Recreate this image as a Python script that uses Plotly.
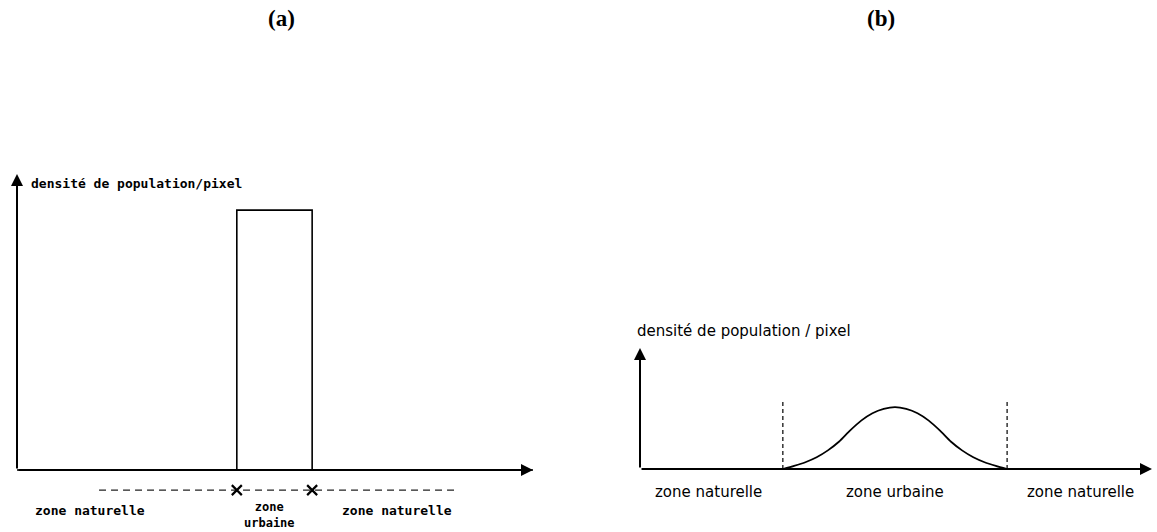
import plotly.graph_objects as go

W, H = 1157, 532

# ---------------- data ----------------
# (a) step profile: natural zone / urban zone / natural zone
a_x = [0, 42.6, 42.6, 57.2, 57.2, 100]
a_density = [0, 0, 87.8, 87.8, 0, 0]
a_zone_bounds = [15.9, 42.6, 57.2, 85.3]      # dashed line under the axis, x marks at the urban limits
a_zone_level = -6.8

# (b) smooth profile
b_curve_x = [27.9, 30.1, 32.3, 34.5, 36.7, 38.85, 41.0, 43.2, 45.4, 47.6, 49.8,
             52.0, 54.2, 56.4, 58.6, 60.75, 62.9, 65.1, 67.3, 69.5, 71.7]
b_curve_y = [0, 2.6, 5.6, 9.7, 15.4, 22.5, 31.7, 40.0, 46.1, 49.7, 51.2,
             49.7, 46.1, 40.0, 31.7, 22.5, 15.4, 9.7, 5.6, 2.6, 0]
b_limits = [27.9, 71.7]
b_limit_top = 55.4

a_labels = ["zone naturelle", "zone<br>urbaine", "zone naturelle"]
b_labels = ["zone naturelle", "zone urbaine", "zone naturelle"]
ylabel_a = "densité de population/pixel"
ylabel_b = "densité de population / pixel"


def px(x):
    return x / W


def py(y):
    return 1 - y / H


def note(x, y, text, font, xanchor="center"):
    return dict(x=px(x), y=py(y), xref="paper", yref="paper", text=text, showarrow=False,
                xanchor=xanchor, yanchor="middle", font=font, borderpad=0)


MONO = dict(family="DejaVu Sans Mono", size=13, color="black")
MONO_SMALL = dict(MONO, size=12)
SANS = dict(family="DejaVu Sans", size=15, color="black")
SERIF = dict(family="Liberation Serif", size=23, color="black")

fig = go.Figure()

# ---------------- panel (a) ----------------
fig.add_trace(go.Scatter(x=a_x, y=a_density, mode="lines", xaxis="x", yaxis="y",
                         line=dict(color="black", width=1.6)))
fig.add_trace(go.Scatter(x=[a_zone_bounds[0], a_zone_bounds[-1]], y=[a_zone_level] * 2, mode="lines",
                         xaxis="x", yaxis="y", line=dict(color="#222", width=1.3, dash="7px,5px")))
fig.add_trace(go.Scatter(x=a_zone_bounds[1:3], y=[a_zone_level] * 2, mode="markers", xaxis="x", yaxis="y",
                         marker=dict(symbol="x-thin", size=10, line=dict(color="black", width=2.2))))

# ---------------- panel (b) ----------------
fig.add_trace(go.Scatter(x=b_curve_x, y=b_curve_y, mode="lines", xaxis="x2", yaxis="y2",
                         line=dict(color="black", width=1.8, shape="spline", smoothing=0.7)))
for xv in b_limits:
    fig.add_trace(go.Scatter(x=[xv, xv], y=[0, b_limit_top], mode="lines", xaxis="x2", yaxis="y2",
                             line=dict(color="black", width=1.2, dash="4px,3px")))

ann = []
# axis arrows
for xr, yr, x0, y0, x1, y1 in [("x", "y", 0, 0, 0, 100), ("x", "y", 0, 0, 100, 0),
                               ("x2", "y2", 0, 0, 0, 100), ("x2", "y2", 0, 0, 100, 0)]:
    ann.append(dict(x=x1, y=y1, ax=x0, ay=y0, xref=xr, yref=yr, axref=xr, ayref=yr, text="",
                    showarrow=True, arrowhead=2, arrowsize=1.2, arrowwidth=2, arrowcolor="black"))

# titles
ann.append(note(281, 18, "<b>(a)</b>", SERIF))
ann.append(note(881, 18, "<b>(b)</b>", SERIF))

# panel (a) texts
ann.append(note(30, 183, "<b>%s</b>" % ylabel_a, MONO, xanchor="left"))
ann.append(note(90, 510, "<b>%s</b>" % a_labels[0], MONO))
ann.append(note(269, 515, "<b>%s</b>" % a_labels[1], MONO_SMALL))
ann.append(note(397, 510, "<b>%s</b>" % a_labels[2], MONO))

# panel (b) texts
ann.append(note(636, 331, ylabel_b, SANS, xanchor="left"))
for cx, t in zip([708, 895, 1080], b_labels):
    ann.append(note(cx, 492, t, SANS))

hidden = dict(visible=False, fixedrange=True)
fig.update_layout(
    width=W, height=H,
    margin=dict(l=0, r=0, t=0, b=0),
    paper_bgcolor="white", plot_bgcolor="white",
    showlegend=False,
    # panel (a): y from -15 (zone line under the axis) to 100 (arrow tip)
    xaxis=dict(domain=[px(17), px(533)], range=[0, 100], anchor="y", **hidden),
    yaxis=dict(domain=[py(514.4), py(174)], range=[-15, 100], anchor="x", **hidden),
    xaxis2=dict(domain=[px(640), px(1152)], range=[0, 100], anchor="y2", **hidden),
    yaxis2=dict(domain=[py(469), py(348)], range=[0, 100], anchor="x2", **hidden),
    annotations=ann,
)

# drop the default page margin so the figure sits at the window origin
fig.write_html("out.html", config={"displayModeBar": False},
               post_script="document.body.style.margin='0';")
